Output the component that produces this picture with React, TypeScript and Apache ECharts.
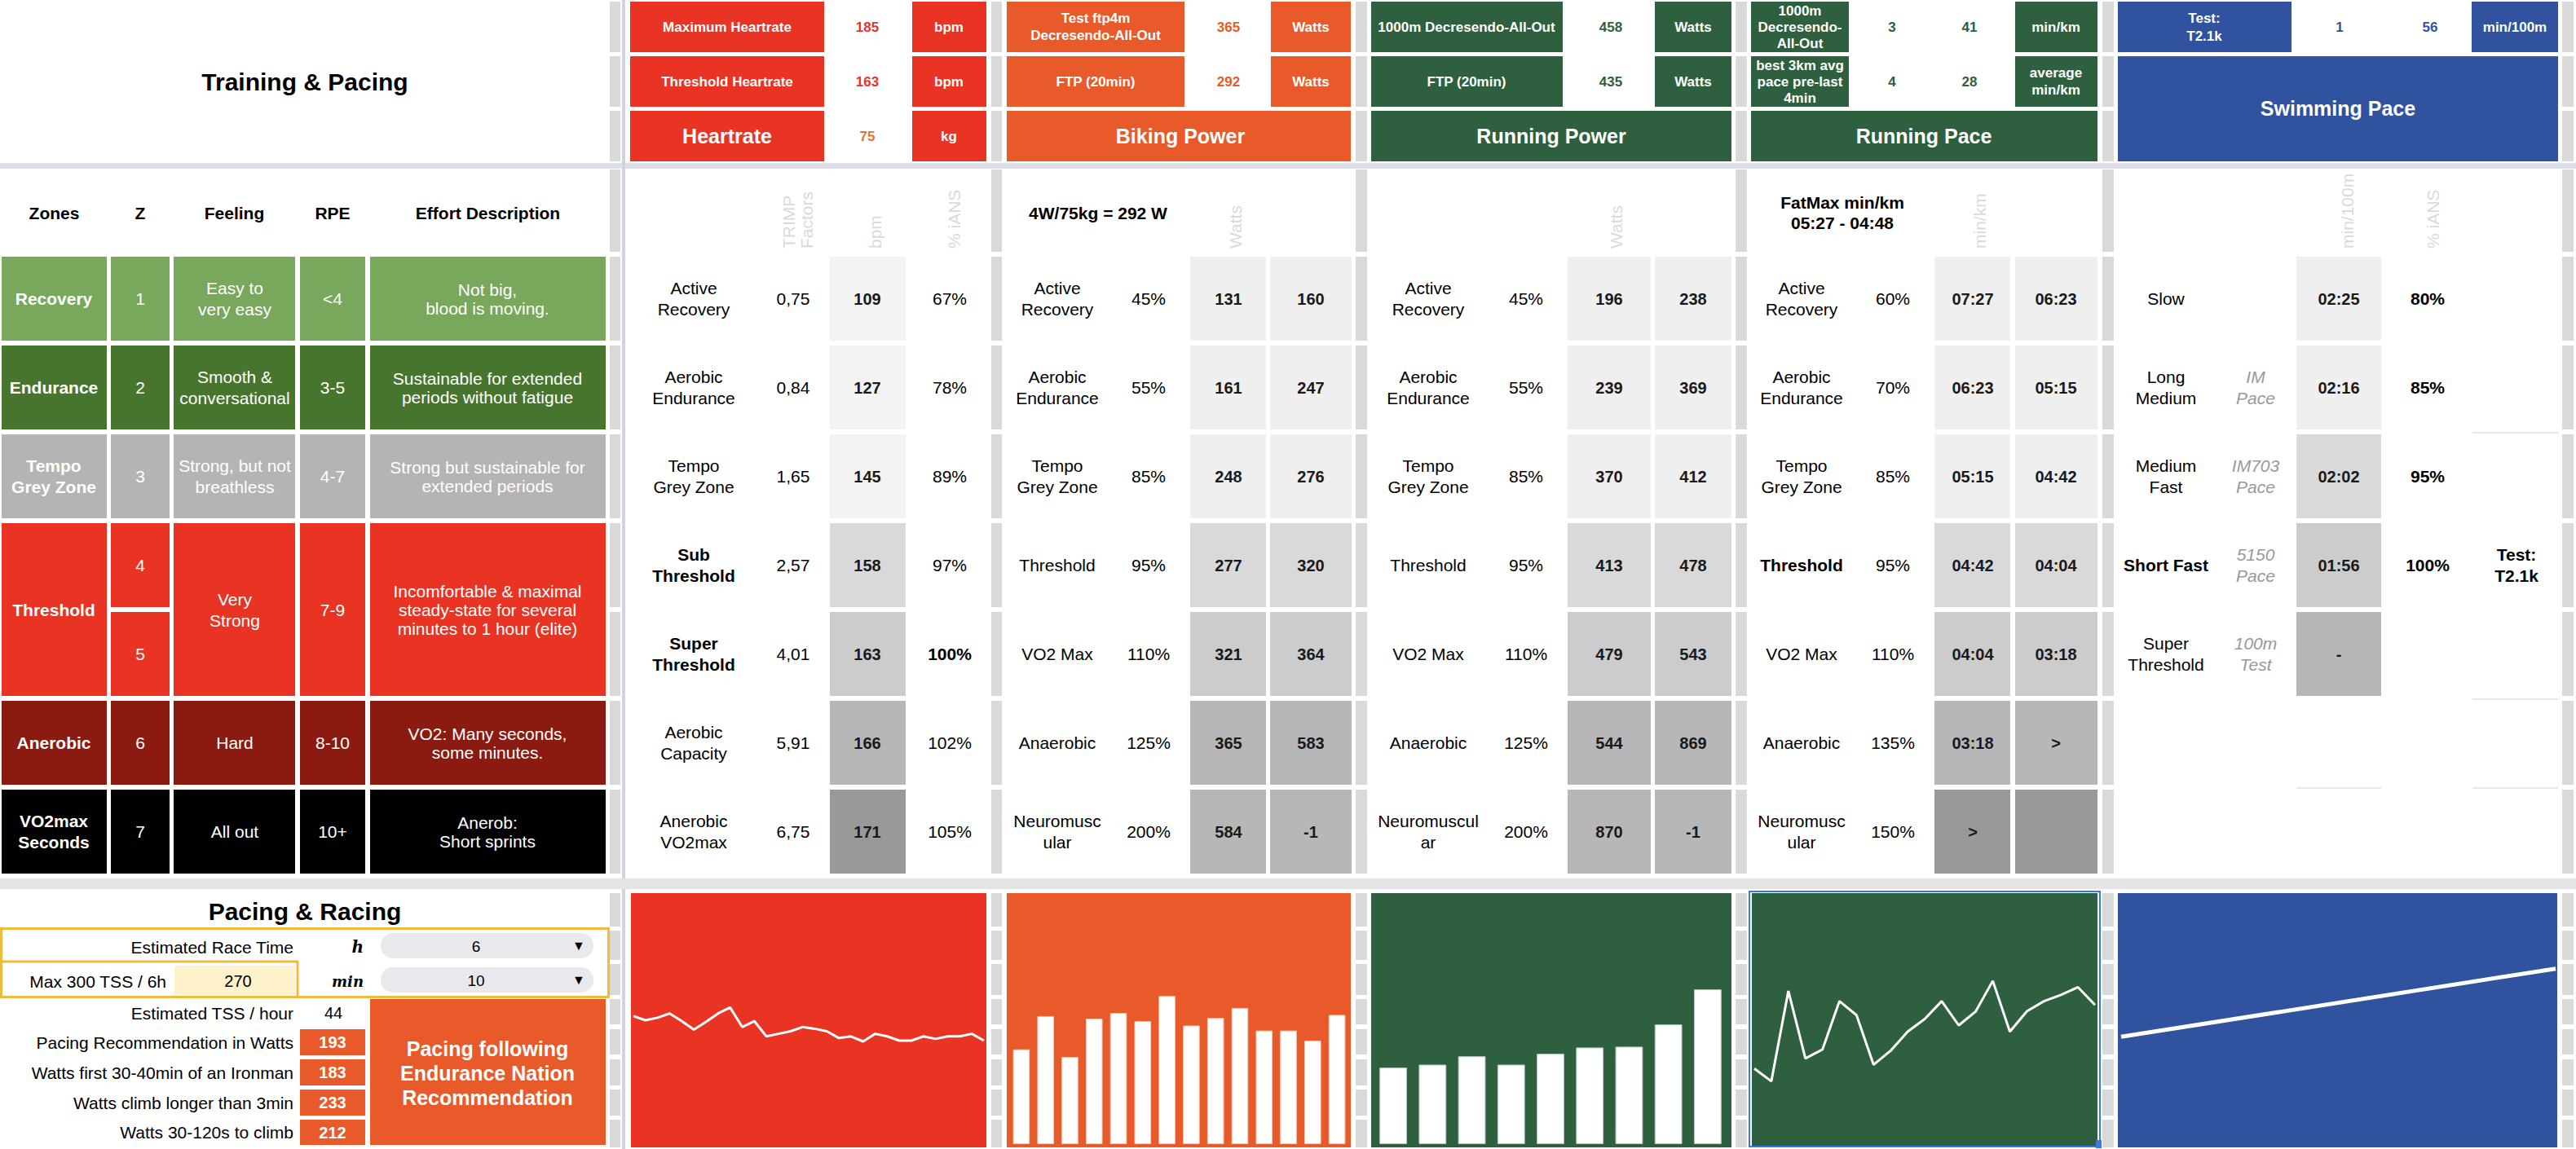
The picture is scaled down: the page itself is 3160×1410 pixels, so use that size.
import React, { useEffect, useRef } from 'react';
import * as echarts from 'echarts';

// ================= DATA =================
const zoneNames = ['Recovery', 'Endurance', 'Tempo\nGrey Zone', 'Threshold', 'Anerobic', 'VO2max\nSeconds'];
const zoneRowSpans = [1, 1, 1, 2, 1, 1];
const zoneNumbers = ['1', '2', '3', '4', '5', '6', '7'];
const zoneFeelings = ['Easy to\nvery easy', 'Smooth &\nconversational', 'Strong, but not\nbreathless', 'Very\nStrong', 'Hard', 'All out'];
const zoneRPE = ['<4', '3-5', '4-7', '7-9', '8-10', '10+'];
const zoneEffort = [
  'Not big,\nblood is moving.',
  'Sustainable for extended\nperiods without fatigue',
  'Strong but sustainable for\nextended periods',
  'Incomfortable & maximal\nsteady-state for several\nminutes to 1 hour (elite)',
  'VO2: Many seconds,\nsome minutes.',
  'Anerob:\nShort sprints',
];
const tableHeaders = ['Zones', 'Z', 'Feeling', 'RPE', 'Effort Description'];

const hrLabels = ['Active\nRecovery', 'Aerobic\nEndurance', 'Tempo\nGrey Zone', 'Sub\nThreshold', 'Super\nThreshold', 'Aerobic\nCapacity', 'Anerobic\nVO2max'];
const hrTrimp = ['0,75', '0,84', '1,65', '2,57', '4,01', '5,91', '6,75'];
const hrBpm = ['109', '127', '145', '158', '163', '166', '171'];
const hrPct = ['67%', '78%', '89%', '97%', '100%', '102%', '105%'];

const bikeLabels = ['Active\nRecovery', 'Aerobic\nEndurance', 'Tempo\nGrey Zone', 'Threshold', 'VO2 Max', 'Anaerobic', 'Neuromusc\nular'];
const bikePct = ['45%', '55%', '85%', '95%', '110%', '125%', '200%'];
const bikeLow = ['131', '161', '248', '277', '321', '365', '584'];
const bikeHigh = ['160', '247', '276', '320', '364', '583', '-1'];

const runPowLabels = ['Active\nRecovery', 'Aerobic\nEndurance', 'Tempo\nGrey Zone', 'Threshold', 'VO2 Max', 'Anaerobic', 'Neuromuscul\nar'];
const runPowPct = ['45%', '55%', '85%', '95%', '110%', '125%', '200%'];
const runPowLow = ['196', '239', '370', '413', '479', '544', '870'];
const runPowHigh = ['238', '369', '412', '478', '543', '869', '-1'];

const runPaceLabels = ['Active\nRecovery', 'Aerobic\nEndurance', 'Tempo\nGrey Zone', 'Threshold', 'VO2 Max', 'Anaerobic', 'Neuromusc\nular'];
const runPacePct = ['60%', '70%', '85%', '95%', '110%', '135%', '150%'];
const runPaceLow = ['07:27', '06:23', '05:15', '04:42', '04:04', '03:18', '>'];
const runPaceHigh = ['06:23', '05:15', '04:42', '04:04', '03:18', '>', ''];

const swimLabels = ['Slow', 'Long\nMedium', 'Medium\nFast', 'Short Fast', 'Super\nThreshold'];
const swimNotes = ['', 'IM\nPace', 'IM703\nPace', '5150\nPace', '100m\nTest'];
const swimPace = ['02:25', '02:16', '02:02', '01:56', '-'];
const swimPct = ['80%', '85%', '95%', '100%', ''];

const headerHR = { maxHr: '185', thresholdHr: '163', weight: '75' };
const headerBike = { test4m: '365', ftp: '292' };
const headerRunPow = { test1000: '458', ftp: '435' };
const headerRunPace = { test1000: ['3', '41'], best3k: ['4', '28'] };
const headerSwim = { test: ['1', '56'] };

const pacingLabels = ['Pacing Recommendation in Watts', 'Watts first 30-40min of an Ironman', 'Watts climb longer than 3min', 'Watts 30-120s to climb'];
const pacingWatts = ['193', '183', '233', '212'];
const raceHours = '6';
const raceMinutes = '10';
const maxTss = '270';
const tssPerHour = '44';

// sparkline data
const hrTrend = [155, 150, 153, 158, 149, 139, 148, 158, 165, 142, 149, 131, 134, 137, 142, 140, 137, 129, 131, 125, 134, 131, 126, 126, 131, 128, 131, 131, 134, 126];
const bikeBars = [151, 204, 139, 200, 209, 196, 236, 189, 201, 217, 181, 181, 165, 206];
const runPowerBars = [183, 190, 210, 190, 216, 231, 233, 286, 370];
const runPaceTrend = [6.2, 5.2, 12.3, 7.0, 7.7, 11.5, 10.4, 6.5, 7.6, 9.1, 10.1, 11.5, 9.6, 10.7, 13.1, 9.1, 10.7, 11.5, 12.0, 12.6, 11.2];
const swimTrend = [43.5, 70.3];

// ================= STYLE / LAYOUT =================
const FF = '"Liberation Sans", Arial, Helvetica, sans-serif';
const RED = '#e93323';
const ORANGE = '#e85a29';
const GREEN = '#2e5f3e';
const BLUE = '#31529e';
const GREYBAR = '#d9d9d9';
const zoneColors = ['#79a75c', '#48752e', '#b4b4b4', '#e93323', '#8b1a11', '#000000'];
const rowTops = [315, 424, 533, 642, 751, 860, 969];
const ROWH = 103;
const rowC = (i: number) => rowTops[i] + ROWH / 2;

function rect(x: number, y: number, w: number, h: number, fill: string, r = 0): any {
  return { type: 'rect', silent: true, z: 0, shape: { x, y, width: w, height: h, r }, style: { fill } };
}
function srect(x: number, y: number, w: number, h: number, stroke: string, lw: number): any {
  return { type: 'rect', silent: true, z: 3, shape: { x, y, width: w, height: h }, style: { fill: 'none', stroke, lineWidth: lw } };
}
function ln(x1: number, y1: number, x2: number, y2: number, stroke: string, lw: number): any {
  return { type: 'line', silent: true, z: 3, shape: { x1, y1, x2, y2 }, style: { stroke, lineWidth: lw } };
}
function txt(x: number, y: number, s: string, o: any = {}): any {
  return {
    type: 'text', silent: true, z: 5, x, y, rotation: o.rot || 0,
    style: {
      text: s, fill: o.color || '#000', fontSize: o.size || 21,
      fontWeight: o.bold ? 'bold' : 'normal', fontStyle: o.italic ? 'italic' : 'normal',
      fontFamily: o.family || FF, align: o.align || 'center', verticalAlign: 'middle',
      lineHeight: o.lh || 26,
    },
  };
}

function buildGraphics(): any[] {
  const g: any[] = [];
  // frozen separators
  g.push(rect(0, 200, 3160, 7, '#dcdfe7'));
  g.push(rect(763, 0, 4, 1410, '#d0d4de'));
  g.push(rect(0, 1078, 3160, 13, '#e4e4e4'));

  // grey spacer bars
  const barXs: [number, number][] = [[748, 13], [1216, 13], [1663, 14], [2129, 14], [2579, 14], [3143, 14]];
  const segs: [number, number][] = [
    [2, 64], [69, 131], [136, 198], [208, 309],
    ...rowTops.map((t) => [t, t + ROWH] as [number, number]),
    [1096, 1137], [1142, 1178], [1183, 1221], [1226, 1257], [1263, 1294], [1300, 1332], [1337, 1369], [1374, 1408],
  ];
  barXs.forEach(([x, w]) => segs.forEach(([a, b]) => g.push(rect(x, a, w, b - a, GREYBAR))));

  // ---------- top header ----------
  g.push(txt(374, 100, 'Training & Pacing', { size: 30, bold: true }));
  const rowsY: [number, number][] = [[2, 62], [69, 62], [136, 62]];
  const hs = { size: 17, bold: true, color: '#fff', lh: 21 };
  // Heartrate
  g.push(rect(773, 2, 238, 62, RED), txt(892, 33, 'Maximum Heartrate', hs));
  g.push(txt(1064, 33, headerHR.maxHr, { size: 17, bold: true, color: RED }));
  g.push(rect(1119, 2, 91, 62, RED), txt(1164, 33, 'bpm', hs));
  g.push(rect(773, 69, 238, 62, RED), txt(892, 100, 'Threshold Heartrate', hs));
  g.push(txt(1064, 100, headerHR.thresholdHr, { size: 17, bold: true, color: RED }));
  g.push(rect(1119, 69, 91, 62, RED), txt(1164, 100, 'bpm', hs));
  g.push(rect(773, 136, 238, 62, RED), txt(892, 167, 'Heartrate', { ...hs, size: 25 }));
  g.push(txt(1064, 167, headerHR.weight, { size: 17, bold: true, color: '#e8703a' }));
  g.push(rect(1119, 136, 91, 62, RED), txt(1164, 167, 'kg', hs));
  // Biking
  g.push(rect(1235, 2, 218, 62, ORANGE), txt(1344, 33, 'Test ftp4m\nDecresendo-All-Out', hs));
  g.push(txt(1507, 33, headerBike.test4m, { size: 17, bold: true, color: ORANGE }));
  g.push(rect(1559, 2, 98, 62, ORANGE), txt(1608, 33, 'Watts', hs));
  g.push(rect(1235, 69, 218, 62, ORANGE), txt(1344, 100, 'FTP (20min)', hs));
  g.push(txt(1507, 100, headerBike.ftp, { size: 17, bold: true, color: ORANGE }));
  g.push(rect(1559, 69, 98, 62, ORANGE), txt(1608, 100, 'Watts', hs));
  g.push(rect(1235, 136, 422, 62, ORANGE), txt(1448, 167, 'Biking Power', { ...hs, size: 25 }));
  // Running power
  g.push(rect(1682, 2, 235, 62, GREEN), txt(1799, 33, '1000m Decresendo-All-Out', hs));
  g.push(txt(1976, 33, headerRunPow.test1000, { size: 17, bold: true, color: GREEN }));
  g.push(rect(2030, 2, 94, 62, GREEN), txt(2077, 33, 'Watts', hs));
  g.push(rect(1682, 69, 235, 62, GREEN), txt(1799, 100, 'FTP (20min)', hs));
  g.push(txt(1976, 100, headerRunPow.ftp, { size: 17, bold: true, color: GREEN }));
  g.push(rect(2030, 69, 94, 62, GREEN), txt(2077, 100, 'Watts', hs));
  g.push(rect(1682, 136, 442, 62, GREEN), txt(1903, 167, 'Running Power', { ...hs, size: 25 }));
  // Running pace
  g.push(rect(2148, 2, 120, 62, GREEN), txt(2208, 33, '1000m\nDecresendo-\nAll-Out', { ...hs, lh: 20 }));
  g.push(txt(2321, 33, headerRunPace.test1000[0], { size: 17, bold: true, color: GREEN }));
  g.push(txt(2416, 33, headerRunPace.test1000[1], { size: 17, bold: true, color: GREEN }));
  g.push(rect(2472, 2, 101, 62, GREEN), txt(2522, 33, 'min/km', hs));
  g.push(rect(2148, 69, 120, 62, GREEN), txt(2208, 100, 'best 3km avg\npace pre-last\n4min', { ...hs, lh: 20 }));
  g.push(txt(2321, 100, headerRunPace.best3k[0], { size: 17, bold: true, color: GREEN }));
  g.push(txt(2416, 100, headerRunPace.best3k[1], { size: 17, bold: true, color: GREEN }));
  g.push(rect(2472, 69, 101, 62, GREEN), txt(2522, 100, 'average\nmin/km', { ...hs, lh: 21 }));
  g.push(rect(2148, 136, 425, 62, GREEN), txt(2360, 167, 'Running Pace', { ...hs, size: 25 }));
  // Swimming
  g.push(rect(2598, 2, 213, 62, BLUE), txt(2704, 33, 'Test:\nT2.1k', { ...hs, lh: 22 }));
  g.push(txt(2870, 33, headerSwim.test[0], { size: 17, bold: true, color: BLUE }));
  g.push(txt(2981, 33, headerSwim.test[1], { size: 17, bold: true, color: BLUE }));
  g.push(rect(3032, 2, 106, 62, BLUE), txt(3085, 33, 'min/100m', hs));
  g.push(rect(2598, 69, 540, 129, BLUE), txt(2868, 133, 'Swimming Pace', { ...hs, size: 25 }));
  void rowsY;

  // ---------- zones table ----------
  const cols: [number, number][] = [[2, 129], [136, 72], [213, 149], [368, 80], [454, 289]];
  tableHeaders.forEach((h, i) => g.push(txt(cols[i][0] + cols[i][1] / 2, 261, h, { bold: true })));
  let r = 0;
  zoneNames.forEach((name, zi) => {
    const span = zoneRowSpans[zi];
    const top = rowTops[r];
    const h = rowTops[r + span - 1] + ROWH - top;
    const cy = top + h / 2;
    const fill = zoneColors[zi];
    g.push(rect(cols[0][0], top, cols[0][1], h, fill), txt(66, cy, name, { bold: true, color: '#fff' }));
    for (let k = 0; k < span; k++) {
      g.push(rect(cols[1][0], rowTops[r + k], cols[1][1], ROWH, fill));
      g.push(txt(172, rowC(r + k), zoneNumbers[r + k], { color: '#fff' }));
    }
    g.push(rect(cols[2][0], top, cols[2][1], h, fill), txt(288, cy, zoneFeelings[zi], { color: '#fff' }));
    g.push(rect(cols[3][0], top, cols[3][1], h, fill), txt(408, cy, zoneRPE[zi], { color: '#fff' }));
    g.push(rect(cols[4][0], top, cols[4][1], h, fill), txt(598, cy, zoneEffort[zi], { color: '#fff', lh: 23 }));
    r += span;
  });

  // ---------- section tables ----------
  const rot = { rot: Math.PI / 2, align: 'left', color: '#dadada', lh: 22 };
  const valStyle = { bold: true, size: 20, color: '#1a1a1a' };
  // heartrate
  g.push(txt(978, 305, 'TRIMP\nFactors', rot), txt(1073, 305, 'bpm', rot), txt(1170, 305, '% iANS', rot));
  const hrShades = ['#f3f3f3', '#f3f3f3', '#f3f3f3', '#d9d9d9', '#cccccc', '#b7b7b7', '#999999'];
  hrLabels.forEach((l, i) => {
    g.push(txt(851, rowC(i), l, { bold: i === 3 || i === 4 }));
    g.push(txt(973, rowC(i), hrTrimp[i]));
    g.push(rect(1018, rowTops[i], 93, ROWH, hrShades[i]), txt(1064, rowC(i), hrBpm[i], valStyle));
    g.push(txt(1165, rowC(i), hrPct[i], { bold: i === 4 }));
  });
  // biking
  g.push(txt(1347, 261, '4W/75kg = 292 W', { bold: true }), txt(1515, 305, 'Watts', rot));
  const powShades = ['#efefef', '#efefef', '#efefef', '#d9d9d9', '#cccccc', '#b7b7b7', '#b7b7b7'];
  bikeLabels.forEach((l, i) => {
    g.push(txt(1297, rowC(i), l), txt(1409, rowC(i), bikePct[i]));
    g.push(rect(1460, rowTops[i], 93, ROWH, powShades[i]), txt(1507, rowC(i), bikeLow[i], valStyle));
    g.push(rect(1558, rowTops[i], 100, ROWH, powShades[i]), txt(1608, rowC(i), bikeHigh[i], valStyle));
  });
  // running power
  g.push(txt(1982, 305, 'Watts', rot));
  runPowLabels.forEach((l, i) => {
    g.push(txt(1752, rowC(i), l), txt(1872, rowC(i), runPowPct[i]));
    g.push(rect(1923, rowTops[i], 102, ROWH, powShades[i]), txt(1974, rowC(i), runPowLow[i], valStyle));
    g.push(rect(2030, rowTops[i], 94, ROWH, powShades[i]), txt(2077, rowC(i), runPowHigh[i], valStyle));
  });
  // running pace
  g.push(txt(2260, 261, 'FatMax min/km\n05:27 - 04:48', { bold: true, lh: 25 }), txt(2428, 305, 'min/km', rot));
  const paceShades1 = ['#efefef', '#efefef', '#efefef', '#d9d9d9', '#cccccc', '#b7b7b7', '#999999'];
  const paceShades2 = ['#efefef', '#efefef', '#efefef', '#d9d9d9', '#cccccc', '#b7b7b7', '#999999'];
  runPaceLabels.forEach((l, i) => {
    g.push(txt(2210, rowC(i), l, { bold: i === 3 }), txt(2322, rowC(i), runPacePct[i]));
    g.push(rect(2373, rowTops[i], 93, ROWH, paceShades1[i]), txt(2420, rowC(i), runPaceLow[i], valStyle));
    g.push(rect(2472, rowTops[i], 101, ROWH, paceShades2[i]), txt(2522, rowC(i), runPaceHigh[i], valStyle));
  });
  // swimming
  g.push(txt(2879, 305, 'min/100m', rot), txt(2984, 305, '% iANS', rot));
  const swimShades = ['#efefef', '#efefef', '#d9d9d9', '#cccccc', '#b7b7b7'];
  swimLabels.forEach((l, i) => {
    g.push(txt(2657, rowC(i), l, { bold: i === 3 }));
    if (swimNotes[i]) g.push(txt(2767, rowC(i), swimNotes[i], { italic: true, color: '#999999' }));
    g.push(rect(2817, rowTops[i], 104, ROWH, swimShades[i]), txt(2869, rowC(i), swimPace[i], valStyle));
    if (swimPct[i]) g.push(txt(2978, rowC(i), swimPct[i], { bold: true }));
  });
  g.push(txt(3087, rowC(3), 'Test:\nT2.1k', { bold: true }));
  g.push(ln(3033, 531, 3138, 531, '#cfcfcf', 1), ln(3033, 858, 3138, 858, '#cfcfcf', 1), ln(3033, 967, 3138, 967, '#cfcfcf', 1));
  g.push(ln(2817, 967, 2921, 967, '#cfcfcf', 1));

  // ---------- pacing & racing ----------
  g.push(txt(374, 1118, 'Pacing & Racing', { size: 30, bold: true }));
  g.push(rect(214, 1185, 148, 36, '#fdf2cc'));
  g.push(txt(360, 1162, 'Estimated Race Time', { align: 'right' }));
  g.push(txt(446, 1162, 'h', { align: 'right', italic: true, bold: true, family: '"DejaVu Serif", serif', size: 20 }));
  g.push(rect(467, 1145, 261, 31, '#e8e9ec', 15), txt(584, 1161, raceHours, { size: 19 }), txt(710, 1160, '▼', { size: 16 }));
  g.push(txt(204, 1204, 'Max 300 TSS / 6h', { align: 'right' }));
  g.push(txt(292, 1204, maxTss, { size: 20 }));
  g.push(txt(446, 1204, 'min', { align: 'right', italic: true, bold: true, family: '"DejaVu Serif", serif', size: 18 }));
  g.push(rect(467, 1187, 261, 31, '#e8e9ec', 15), txt(584, 1203, raceMinutes, { size: 19 }), txt(710, 1202, '▼', { size: 16 }));
  g.push(srect(1.5, 1139.5, 745, 84, '#f0bb3c', 3));
  g.push(ln(0, 1180, 366, 1180, '#f0bb3c', 3), ln(365, 1180, 365, 1224, '#f0bb3c', 3));
  g.push(txt(360, 1243, 'Estimated TSS / hour', { align: 'right' }), txt(409, 1243, tssPerHour, { size: 20 }));
  const pacingRows = [[1263, 1295], [1300, 1332], [1337, 1369], [1374, 1405]];
  pacingLabels.forEach((l, i) => {
    const [a, b] = pacingRows[i];
    g.push(txt(360, (a + b) / 2, l, { align: 'right' }));
    g.push(rect(368, a, 80, b - a, ORANGE), txt(408, (a + b) / 2, pacingWatts[i], { color: '#fff', bold: true, size: 20 }));
  });
  g.push(rect(454, 1226, 289, 179, ORANGE));
  g.push(txt(598, 1317, 'Pacing following\nEndurance Nation\nRecommendation', { size: 25, bold: true, color: '#fff', lh: 30 }));

  // ---------- chart panels ----------
  g.push(rect(774, 1096, 436, 312, RED));
  g.push(rect(1235, 1096, 422, 312, ORANGE));
  g.push(rect(1682, 1096, 442, 312, GREEN));
  g.push(rect(2149, 1096, 424, 310, GREEN));
  g.push(rect(2598, 1096, 539, 312, BLUE));
  g.push(srect(2146, 1094, 430, 313, '#3b78e7', 2));
  g.push(rect(2571, 1399, 7, 10, '#3b78e7'));
  return g;
}

function idx(arr: number[]) {
  return arr.map((_, i) => String(i + 1));
}

function buildOption(): any {
  const grids = [
    { left: 777, top: 1096, width: 430, height: 312 },
    { left: 1238, top: 1096, width: 417, height: 308 },
    { left: 1685, top: 1096, width: 434, height: 308 },
    { left: 2152, top: 1096, width: 418, height: 312 },
    { left: 2602, top: 1096, width: 533, height: 312 },
  ];
  const cats = [idx(hrTrend), idx(bikeBars), idx(runPowerBars), idx(runPaceTrend), idx(swimTrend)];
  const gaps = [false, true, true, false, false];
  const maxes = [300, 400, 600, 20, 100];
  return {
    animation: false,
    backgroundColor: '#ffffff',
    graphic: { elements: buildGraphics() },
    grid: grids.map((g) => ({ ...g, containLabel: false, show: false })),
    xAxis: cats.map((c, i) => ({ type: 'category', gridIndex: i, data: c, boundaryGap: gaps[i], show: false })),
    yAxis: maxes.map((m, i) => ({ type: 'value', gridIndex: i, min: 0, max: m, show: false })),
    series: [
      { type: 'line', xAxisIndex: 0, yAxisIndex: 0, data: hrTrend, symbol: 'none', lineStyle: { color: '#fff', width: 3 }, z: 10 },
      { type: 'bar', xAxisIndex: 1, yAxisIndex: 1, data: bikeBars, barWidth: '69%', itemStyle: { color: '#ffffff', borderColor: '#f3c9b6', borderWidth: 1 }, z: 10 },
      { type: 'bar', xAxisIndex: 2, yAxisIndex: 2, data: runPowerBars, barWidth: '70%', itemStyle: { color: '#ffffff', borderColor: '#b9cbbf', borderWidth: 1 }, z: 10 },
      { type: 'line', xAxisIndex: 3, yAxisIndex: 3, data: runPaceTrend, symbol: 'none', lineStyle: { color: '#fff', width: 3 }, z: 10 },
      { type: 'line', xAxisIndex: 4, yAxisIndex: 4, data: swimTrend, symbol: 'none', lineStyle: { color: '#fff', width: 5 }, z: 10 },
    ],
  };
}

export default function App() {
  const ref = useRef<HTMLDivElement>(null);
  useEffect(() => {
    if (!ref.current) return;
    const chart = echarts.init(ref.current, undefined, { renderer: 'svg' });
    chart.setOption(buildOption());
    return () => chart.dispose();
  }, []);
  return (
    <div
      ref={ref}
      style={{ position: 'fixed', left: 0, top: 0, width: 3160, height: 1410, background: '#fff' }}
    />
  );
}
